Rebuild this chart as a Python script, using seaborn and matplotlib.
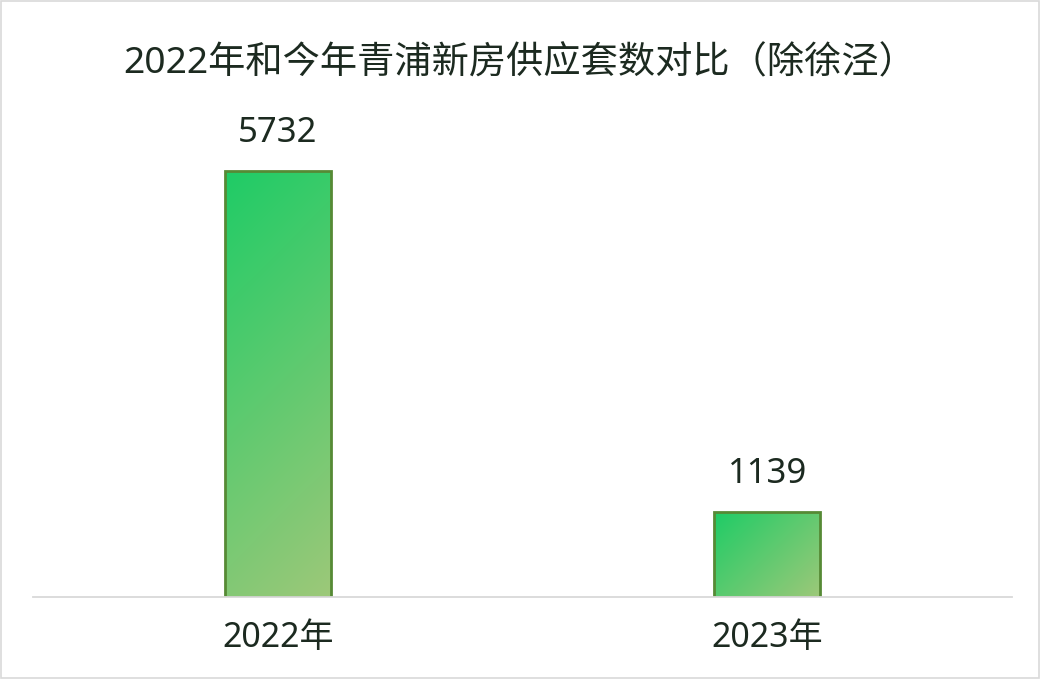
import matplotlib
matplotlib.use("Agg")
import matplotlib.pyplot as plt
import seaborn as sns
import numpy as np
import pandas as pd
from matplotlib.colors import LinearSegmentedColormap
from matplotlib.patches import Rectangle

# data
years = ["2022年", "2023年"]
supply = [5732, 1139]
title = "2022年和今年青浦新房供应套数对比（除徐泾）"

sns.set_style("white")
plt.rcParams['font.family'] = ['Noto Sans', 'Noto Sans CJK SC', 'DejaVu Sans']

TEXT = "#1c2a20"
grad = LinearSegmentedColormap.from_list("g", ["#1fcc66", "#9dc879"])

df = pd.DataFrame({"year": years, "supply": supply})

fig = plt.figure(figsize=(10.4, 6.79), dpi=100)
ax = fig.add_axes([33/1040, 1 - 597/679, 979/1040, 483/679])

sns.barplot(data=df, x="year", y="supply", ax=ax, width=0.2166,
            color="#22cc66", edgecolor="#568a35", linewidth=2)
ax.set_xlim(-0.5, 1.5)
ax.set_ylim(0, 6500)

# 45 degree gradient (in pixel space), clipped to each bar
px_per_x = 979 / 2.0
px_per_y = 483 / 6500.0
for p in ax.patches:
    x0, y0 = p.get_x(), p.get_y()
    w, h = p.get_width(), p.get_height()
    wp, hp = w * px_per_x, h * px_per_y
    ny, nx = max(int(hp), 2), max(int(wp), 2)
    yy, xx = np.mgrid[0:hp:complex(ny), 0:wp:complex(nx)]
    g = (xx + yy) / (wp + hp)
    im = ax.imshow(g, cmap=grad, extent=(x0, x0 + w, y0, y0 + h),
                   origin="upper", aspect="auto", zorder=p.get_zorder() - 0.1)
    im.set_clip_path(p)
    p.set_facecolor("none")
    p.set_zorder(p.get_zorder() + 0.2)
    ax.text(x0 + w / 2, y0 + h + 290, f"{int(h)}", ha="center", va="bottom",
            fontsize=25, color=TEXT)

ax.set_xlim(-0.5, 1.5)
ax.set_ylim(0, 6500)
ax.set_xlabel("")
ax.set_ylabel("")
ax.set_yticks([])
ax.tick_params(axis="x", length=0, pad=17, labelsize=24.5, labelcolor=TEXT)
for s in ["top", "left", "right"]:
    ax.spines[s].set_visible(False)
ax.spines["bottom"].set_color("#d9d9d9")
ax.spines["bottom"].set_linewidth(1.3)

fig.text(520/1040, 1 - 64/679, title, ha="center", va="center", fontsize=26.8, color=TEXT)

# outer border
fig.patches.append(Rectangle((0.001, 0.001), 0.998, 0.997, transform=fig.transFigure,
                             fill=False, edgecolor="#d9d9d9", linewidth=1.2))

fig.savefig("out.png", dpi=100)
